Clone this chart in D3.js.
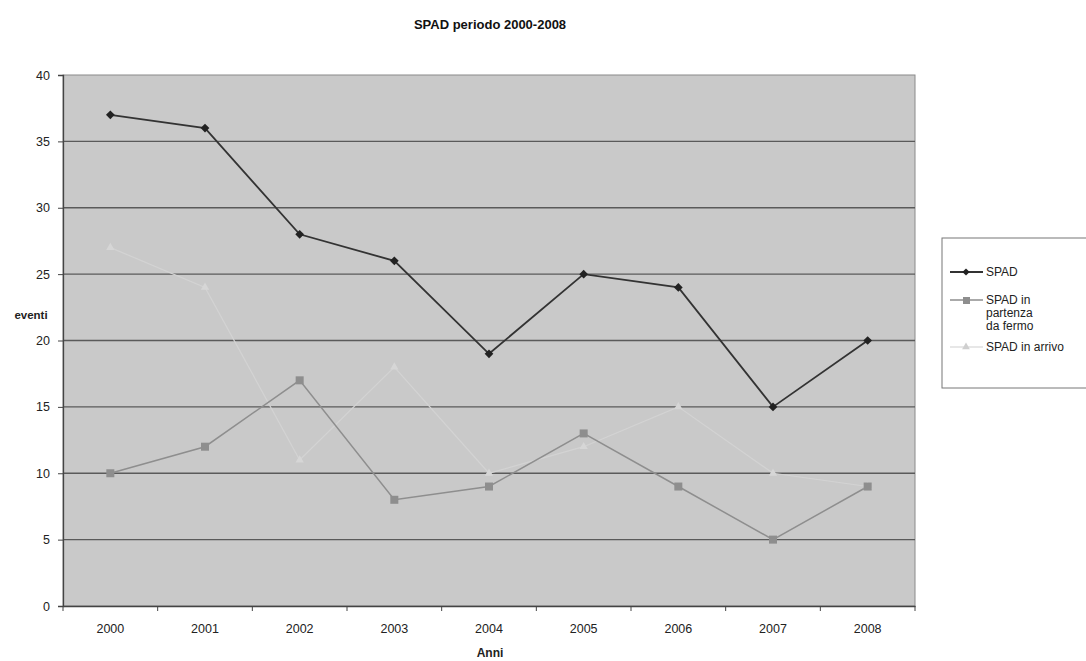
<!DOCTYPE html>
<html>
<head>
<meta charset="utf-8">
<script src="https://cdn.jsdelivr.net/npm/d3@7/dist/d3.min.js"></script>
<style>
  html, body { margin: 0; padding: 0; background: #fff; }
  svg { display: block; font-family: Arial, "Liberation Sans", sans-serif; }
</style>
</head>
<body>
<svg id="chart" width="1086" height="661"></svg>
<script>
// Anni di osservazione
const years = ["2000", "2001", "2002", "2003", "2004", "2005", "2006", "2007", "2008"];
// Eventi SPAD totali
const spad = [37, 36, 28, 26, 19, 25, 24, 15, 20];
// SPAD in partenza da fermo
const spadPartenza = [10, 12, 17, 8, 9, 13, 9, 5, 9];
// SPAD in arrivo
const spadArrivo = [27, 24, 11, 18, 10, 12, 15, 10, 9];
// Tacche dell'asse verticale
const yTicks = [0, 5, 10, 15, 20, 25, 30, 35, 40];

const svg = d3.select("#chart");
const plot = { left: 63, right: 915, top: 75, bottom: 606 };

const x = d3.scaleBand().domain(years).range([plot.left, plot.right]).paddingInner(0).paddingOuter(0);
const y = d3.scaleLinear().domain([0, 40]).range([plot.bottom, plot.top]);

// Area del grafico
svg.append("rect")
  .attr("x", plot.left).attr("y", plot.top)
  .attr("width", plot.right - plot.left).attr("height", plot.bottom - plot.top)
  .attr("fill", "#c9c9c9").attr("stroke", "#8a8a8a").attr("stroke-width", 1);

// Griglia orizzontale
svg.append("g")
  .selectAll("line")
  .data(yTicks.filter(d => d > 0 && d < 40))
  .join("line")
  .attr("x1", plot.left).attr("x2", plot.right)
  .attr("y1", d => y(d)).attr("y2", d => y(d))
  .attr("stroke", "#5a5a5a").attr("stroke-width", 1.3);

// Asse Y
const yAxis = svg.append("g")
  .attr("transform", `translate(${plot.left},0)`)
  .call(d3.axisLeft(y).tickValues(yTicks).tickSize(5).tickPadding(8));
yAxis.select(".domain").attr("stroke", "#444").attr("stroke-width", 1.3);
yAxis.selectAll(".tick line").attr("stroke", "#444");
yAxis.selectAll(".tick text").attr("font-size", 12.5).attr("fill", "#222").attr("font-family", "Arial, 'Liberation Sans', sans-serif");

// Asse X
const xAxis = svg.append("g")
  .attr("transform", `translate(0,${plot.bottom})`)
  .call(d3.axisBottom(x).tickSize(0).tickPadding(18));
xAxis.select(".domain").attr("stroke", "#444").attr("stroke-width", 1.3);
xAxis.selectAll(".tick text").attr("font-size", 12.5).attr("fill", "#222").attr("font-family", "Arial, 'Liberation Sans', sans-serif");
// Tacche tra le categorie
svg.append("g")
  .selectAll("line")
  .data(d3.range(years.length + 1))
  .join("line")
  .attr("x1", i => plot.left + i * x.step()).attr("x2", i => plot.left + i * x.step())
  .attr("y1", plot.bottom).attr("y2", plot.bottom + 5)
  .attr("stroke", "#444");

const cx = d => x(d) + x.bandwidth() / 2;

// Linee delle serie
const line = d3.line().x((d, i) => cx(years[i])).y(d => y(d));

function drawSeries(values, color, width) {
  svg.append("path")
    .datum(values)
    .attr("d", line)
    .attr("fill", "none")
    .attr("stroke", color)
    .attr("stroke-width", width);
}

drawSeries(spadArrivo, "#d3d3d3", 1.2);
drawSeries(spadPartenza, "#8e8e8e", 1.5);
drawSeries(spad, "#333", 1.8);

// Marcatori
svg.append("g").selectAll("path")
  .data(spadArrivo)
  .join("path")
  .attr("transform", (d, i) => `translate(${cx(years[i])},${y(d)})`)
  .attr("d", d3.symbol(d3.symbolTriangle, 30))
  .attr("fill", "#d6d6d6");

svg.append("g").selectAll("rect")
  .data(spadPartenza)
  .join("rect")
  .attr("x", (d, i) => cx(years[i]) - 4)
  .attr("y", d => y(d) - 4)
  .attr("width", 8).attr("height", 8)
  .attr("fill", "#8e8e8e");

svg.append("g").selectAll("path")
  .data(spad)
  .join("path")
  .attr("transform", (d, i) => `translate(${cx(years[i])},${y(d)}) rotate(45)`)
  .attr("d", d3.symbol(d3.symbolSquare, 38))
  .attr("fill", "#222");

// Titolo
svg.append("text")
  .attr("x", 490).attr("y", 29)
  .attr("text-anchor", "middle")
  .attr("font-size", 13).attr("font-weight", "bold").attr("fill", "#111")
  .text("SPAD periodo 2000-2008");

// Titoli degli assi
svg.append("text")
  .attr("x", 31).attr("y", 319)
  .attr("text-anchor", "middle")
  .attr("font-size", 11.5).attr("font-weight", "bold").attr("fill", "#222")
  .text("eventi");

svg.append("text")
  .attr("x", 490).attr("y", 657)
  .attr("text-anchor", "middle")
  .attr("font-size", 12).attr("font-weight", "bold").attr("fill", "#222")
  .text("Anni");

// Legenda
const legend = svg.append("g");
legend.append("rect")
  .attr("x", 942).attr("y", 238)
  .attr("width", 160).attr("height", 150)
  .attr("fill", "#fff").attr("stroke", "#777").attr("stroke-width", 1);

const legendItems = [
  { lines: ["SPAD"], color: "#333", y: 272, marker: "diamond", width: 1.8 },
  { lines: ["SPAD in", "partenza", "da fermo"], color: "#8e8e8e", y: 300, marker: "square", width: 1.5 },
  { lines: ["SPAD in arrivo"], color: "#cfcfcf", y: 347, marker: "triangle", width: 1.2 }
];
legendItems.forEach(item => {
  const g = legend.append("g");
  g.append("line")
    .attr("x1", 950).attr("x2", 983)
    .attr("y1", item.y).attr("y2", item.y)
    .attr("stroke", item.color).attr("stroke-width", item.width);
  if (item.marker === "diamond") {
    g.append("path").attr("transform", `translate(966,${item.y}) rotate(45)`)
      .attr("d", d3.symbol(d3.symbolSquare, 26)).attr("fill", "#222");
  } else if (item.marker === "square") {
    g.append("rect").attr("x", 963).attr("y", item.y - 3).attr("width", 7).attr("height", 7)
      .attr("fill", item.color);
  } else {
    g.append("path").attr("transform", `translate(966,${item.y})`)
      .attr("d", d3.symbol(d3.symbolTriangle, 26)).attr("fill", item.color);
  }
  const t = g.append("text")
    .attr("x", 986).attr("y", item.y + 4)
    .attr("font-size", 12).attr("fill", "#222");
  item.lines.forEach((ln, j) => {
    t.append("tspan").attr("x", 986).attr("dy", j === 0 ? 0 : 13).text(ln);
  });
});
</script>
</body>
</html>
